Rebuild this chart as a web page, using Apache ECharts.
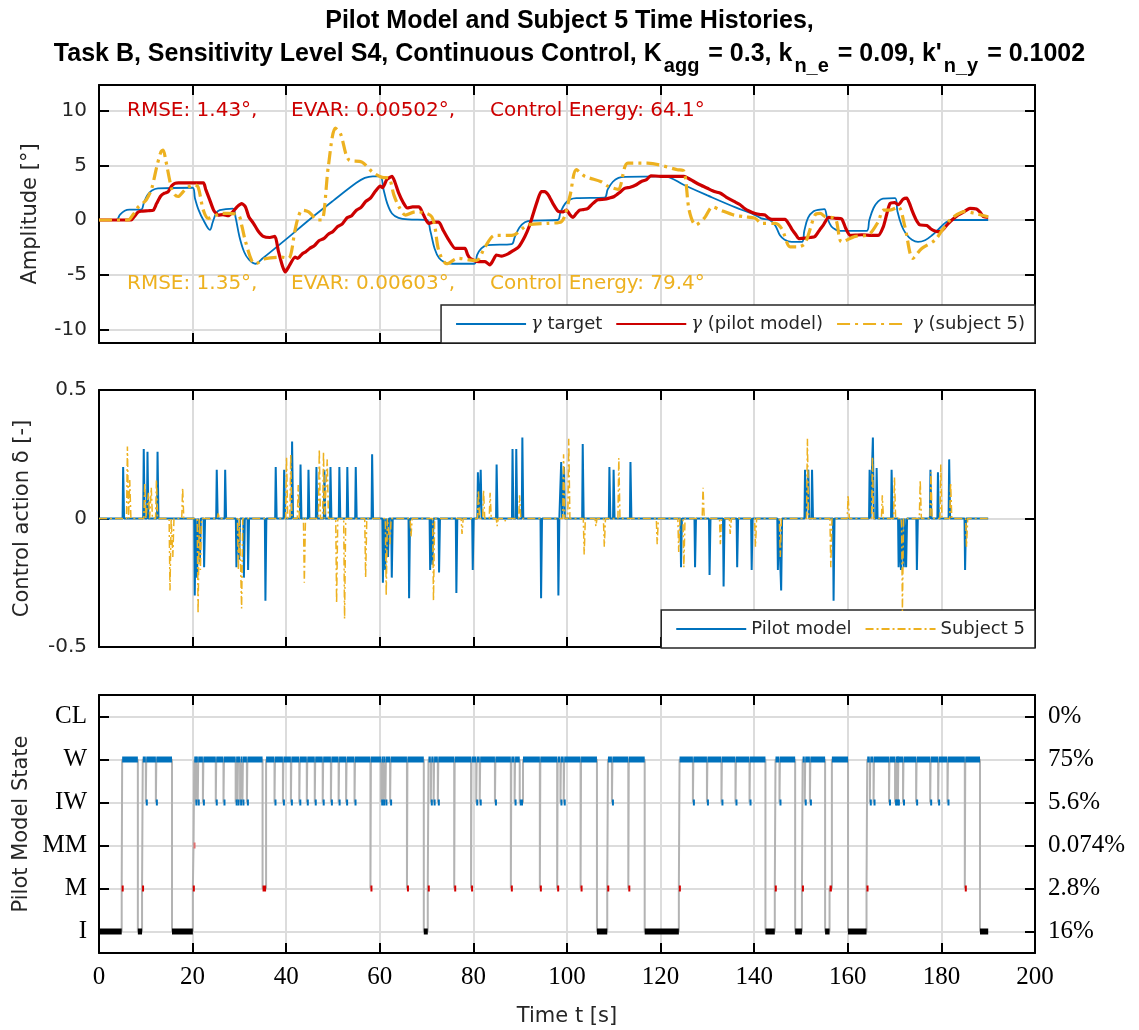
<!DOCTYPE html>
<html>
<head>
<meta charset="utf-8">
<script src="https://cdn.jsdelivr.net/npm/echarts@6/dist/echarts.min.js"></script>
<style>
  html, body { margin: 0; padding: 0; background: #fff; }
  #chart { width: 1139px; height: 1030px; }
</style>
</head>
<body>
<div id="chart"></div>
<script>
// ---- flight-path angle histories [s, deg] ----
const gammaTarget = [
  [0,0],[3.7,0],[4.5,0.5],[5.5,0.85],[6.5,0.95],[9.0,0.95],[9.6,1.6],[10.4,2.3],[11.3,2.7],[12.6,2.9],[20,2.95],
  [20.5,2.0],[21.3,0.9],[22.3,0],[23.7,-0.9],[24.3,-0.2],[25,0.6],[25.8,0.9],[28.6,1.05],[29.2,0.2],[30,-1.5],
  [31,-2.9],[32,-3.6],[33.4,-4.0],[35,-3.5],[40,-1.75],[45,0.05],[50,1.75],[55,3.4],[56.8,3.85],[58.5,4.0],
  [60.1,4.0],[60.8,2.8],[61.6,1.5],[62.6,0.6],[64,0.2],[66,0.05],[70,0],[70.8,-1.0],[71.7,-2.6],[72.7,-3.5],
  [74,-3.9],[75.5,-4.0],[80.2,-4.0],[80.8,-3.2],[81.7,-2.6],[83,-2.3],[88.2,-2.2],[88.8,-1.6],[89.8,-0.7],
  [91,-0.2],[92.5,-0.05],[98,0],[98.6,0.7],[99.6,1.5],[100.8,1.9],[102,2.0],[108,2.05],[108.7,2.8],[109.8,3.5],
  [111,3.85],[112.5,3.95],[120.8,4.0],[125,3.2],[130,2.25],[136,1.15],[140,0.5],[141.5,0.15],[143.3,0],
  [144.5,-0.5],[145.5,-1.4],[146.5,-1.8],[148,-2.0],[150.2,-2.0],[150.7,-1.0],[151.5,0.2],[152.7,0.8],[154,0.95],
  [155,1.0],[155.6,0.2],[156.5,-0.6],[157.5,-0.9],[158.5,-1.0],[164,-1.0],[164.6,0],[165.5,1.1],[166.5,1.7],
  [167.5,1.95],[170.1,2.0],[170.6,0.8],[171.5,-0.5],[172.5,-1.3],[173.7,-1.8],[175,-2.0],[176.5,-1.85],
  [178,-1.4],[179.5,-0.8],[181,-0.2],[182.5,0],[190,0]
];
const gammaPilot = [
  [0,0],[6.9,0],[7.5,0.3],[8.3,0.7],[9,0.8],[10.5,0.85],[11.6,0.9],[12.3,1.5],[13.2,2.2],[14,2.45],[14.8,2.6],
  [15.5,3.1],[16.2,3.35],[17,3.4],[22.3,3.4],[22.8,2.8],[23.7,1.8],[24.5,0.9],[25.5,0.45],[26.5,0.5],[27.6,0.4],
  [28.5,0.7],[29.5,1.2],[30.5,1.5],[31.3,1.2],[32,0.3],[33,-0.3],[34,-1.0],[35.1,-1.5],[36.5,-1.6],[37.6,-1.5],
  [38.3,-2.8],[39.2,-4.2],[39.8,-4.75],[40.5,-4.3],[41.9,-3.4],[42.5,-3.5],[43.4,-3.1],[44.2,-2.9],[45,-2.6],
  [46,-2.35],[47,-1.9],[48,-1.7],[49,-1.3],[50,-1.05],[51,-0.6],[52,-0.35],[53,0.2],[54,0.4],[55,0.9],[56,1.15],
  [57,1.7],[58,2.0],[59,2.6],[60.1,3.1],[60.6,2.95],[61.5,3.7],[62.6,4.0],[63.2,3.5],[64,2.5],[65,1.6],[65.9,1.1],
  [67,1.2],[68.4,1.2],[69.3,0.5],[70.4,-0.3],[71.5,-0.2],[72.6,-0.2],[73.5,-0.9],[74.7,-1.8],[76.1,-2.6],
  [77.2,-2.6],[78.2,-2.6],[78.8,-3.2],[79.3,-3.5],[81.1,-3.8],[82.5,-3.8],[83.5,-4.1],[84.2,-3.7],[84.9,-3.2],
  [86,-3.3],[87.4,-3.1],[88.5,-2.8],[89.6,-2.5],[91,-1.5],[92,-0.5],[92.8,0.6],[93.7,1.8],[94.5,2.6],[95.2,2.6],
  [96,2.3],[97,1.5],[98.1,0.8],[99.2,0.75],[99.9,0.9],[100.6,0.5],[101.3,0.25],[102,0.6],[102.7,0.9],
  [103.5,0.95],[104.5,1.07],[105.5,1.5],[106.6,1.85],[108,1.9],[109,2.0],[110.1,2.15],[111.2,2.5],[112.3,2.9],
  [113.5,3.0],[114.7,3.2],[115.8,3.5],[117,3.7],[117.9,4.05],[120,4.0],[125,4.0],[126,3.8],[127.2,3.5],
  [128.5,3.2],[130,2.9],[131.5,2.6],[132.8,2.45],[134,2.1],[135.7,1.7],[137,1.4],[137.8,1.1],[139,0.8],
  [140.2,0.6],[141.3,0.5],[142.3,0.46],[143,0.2],[143.8,0.06],[146.6,0.06],[147.3,-0.3],[148,-0.8],[149,-1.4],
  [149.5,-1.7],[150.9,-1.65],[152,-1.6],[153,-1.5],[154,-0.9],[154.8,-0.45],[155.9,0.25],[157.5,0.15],
  [158.7,0.1],[159.5,-0.7],[160.5,-1.4],[163,-1.35],[165,-1.4],[166.5,-1.4],[167.6,-0.6],[168.3,0.5],[169,1.5],
  [170,1.6],[170.8,1.4],[171.8,1.9],[172.6,2.0],[173.2,1.5],[173.7,0.9],[174.5,0.1],[175.4,-0.45],[176.9,-0.5],
  [177.7,-0.8],[178.6,-1.0],[179.7,-1.07],[180.5,-0.8],[181.5,-0.3],[182.5,0.1],[183.6,0.46],[185,0.8],
  [186.1,1.07],[187.5,1.0],[188.3,0.7],[189,0.3],[190,0.25]
];
const gammaSubject = [
  [0,0],[6.2,0],[7.3,0.5],[8.4,1.2],[9.3,1.5],[10.1,1.85],[11.2,2.8],[12.3,4.8],[13.2,6.2],[13.7,6.4],[14.2,5.6],
  [15.5,2.9],[16.2,2.3],[16.9,2.15],[18,2.6],[19,3.0],[20.5,3.2],[21.2,3.0],[22.3,0.9],[23.4,0.15],[24.8,0.4],
  [26,0.6],[27.6,0.6],[29.8,0.45],[30.5,-0.5],[31.2,-1.8],[32.6,-3.7],[33.4,-4.0],[35.5,-3.55],[39,-3.4],
  [40.5,-3.5],[41.9,-0.9],[42.6,0.3],[43.4,0.9],[44.8,0.75],[45.8,0.3],[46.6,0],[47.6,0],[49,4.9],[50.5,8.4],
  [51.6,7.9],[53.4,5.5],[56.2,5.3],[58.4,4.4],[60.5,3.9],[61.9,3.85],[63,2.3],[64.1,1.2],[65.5,0.45],[67.6,0.75],
  [71.1,0.3],[72.6,-2.8],[74.3,-4.0],[76.8,-3.5],[79,-3.65],[80.7,-3.7],[82.5,-2.45],[84.6,-1.4],[88.2,-1.4],
  [91.7,-0.45],[96,-0.3],[98.8,-0.15],[100.6,2.15],[102,4.6],[103.8,4.0],[107.3,3.5],[108.7,3.1],[110.9,2.8],
  [113,5.2],[117.2,5.2],[123.6,4.6],[125,4.45],[126.1,0.9],[127.5,-0.45],[129.3,0.15],[131.1,1.2],[132.8,0.9],
  [135.7,0.45],[138,0.3],[140.2,0.15],[141.6,-0.3],[144.5,-0.3],[145.9,-0.8],[147.7,-2.45],[149.5,-2.45],
  [150.9,-2.1],[153,0.46],[154.1,0.6],[155.2,0.3],[157.3,0.15],[158.7,-2.0],[161.6,-1.5],[164.4,-1.35],
  [166.5,-0.15],[167.6,0.9],[169,0.9],[170.8,1.2],[172.2,-0.6],[173.9,-3.5],[175.8,-2.6],[178.6,-1.85],
  [180.4,-0.8],[182.2,0.15],[185,0.77],[187.2,0.6],[190,0.3]
];

// ---- control action pulses [s, peak] ----
const deltaPilot = [
  [5.2,0.20],[9.6,0.27],[10.4,0.26],[12.55,0.26],[20.5,-0.30],[21.0,-0.23],[21.6,-0.17],[22.5,-0.19],[25.2,0.19],
  [27.0,0.19],[29.4,-0.19],[30.0,-0.16],[31.0,-0.23],[31.9,-0.20],[35.6,-0.32],[37.8,0.20],[39.6,0.19],[41.3,0.30],
  [43.1,0.21],[44.8,0.19],[46.5,0.20],[48.2,0.19],[49.5,0.20],[51.4,0.20],[53.1,0.20],[54.9,0.20],[58.4,0.25],
  [60.7,-0.25],[61.2,-0.20],[61.8,-0.15],[62.6,-0.23],[66.3,-0.31],[70.8,-0.20],[71.3,-0.18],[72.7,-0.21],
  [76.4,-0.29],[79.9,-0.20],[81.0,0.18],[81.6,0.19],[85.0,0.21],[88.4,0.27],[89.2,0.27],[90.5,0.315],[94.5,-0.31],
  [98.2,-0.30],[98.8,0.22],[99.4,0.20],[103.4,0.29],[109.1,0.20],[110.0,0.19],[113.6,0.22],[124.4,-0.19],
  [127.4,-0.19],[130.5,-0.22],[133.5,-0.265],[136.4,-0.19],[139.5,-0.20],[145.1,-0.20],[145.8,-0.28],[150.9,0.19],
  [151.6,0.19],[152.4,0.19],[157.0,-0.32],[164.7,0.19],[165.4,0.315],[166.2,0.196],[169.4,0.19],[170.9,-0.19],
  [171.4,-0.20],[172.0,-0.19],[172.5,-0.19],[174.8,-0.20],[177.7,0.19],[179.3,0.18],[181.7,0.23],[185.1,-0.20]
];
const deltaSubject = [
  [6.1,0.28],[6.6,0.15],[9.8,0.14],[10.6,0.10],[11.2,0.12],[12.3,0.15],[15.2,-0.28],[15.8,-0.15],[17.9,0.12],
  [21.2,-0.37],[21.7,-0.20],[25.5,0.02],[29.8,-0.20],[30.5,-0.35],[40.1,0.24],[41.0,0.25],[42.6,0.13],[43.9,-0.25],
  [47.1,0.27],[48.0,0.26],[48.8,0.23],[50.8,-0.33],[52.5,-0.39],[57.0,-0.23],[61.4,-0.30],[62.2,-0.10],
  [66.7,-0.07],[71.5,-0.32],[77.6,-0.06],[81.1,0.11],[82.2,0.11],[83.6,0.10],[85.1,-0.03],[86.8,-0.01],[89.9,0.09],
  [99.3,0.25],[100.4,0.31],[103.7,-0.14],[106.2,-0.03],[108.0,-0.11],[111.1,0.235],[119.3,-0.10],[123.9,-0.13],
  [125.0,-0.19],[129.1,0.12],[132.8,-0.10],[134.9,-0.06],[140.3,-0.11],[145.6,-0.15],[151.4,0.31],[156.4,-0.19],
  [160.1,0.09],[165.3,0.24],[167.4,0.09],[170.0,0.16],[171.7,-0.36],[175.5,0.15],[177.8,0.18],[179.9,0.21],
  [182.0,0.14],[185.4,-0.11]
];

// ---- pilot model state: switch times [s] and the state entered ----
const stateT = [
  0,4.85,4.95,8.3,9.2,9.35,10.0,10.1,12.15,12.25,15.6,20.05,20.2,20.35,20.6,20.7,21.1,21.2,22.2,22.3,
  24.95,25.05,26.6,26.7,29.2,29.3,29.6,29.7,30.15,30.25,30.65,30.75,31.6,31.7,34.95,35.7,37.5,37.6,39.3,39.4,
  41.0,41.1,42.8,42.9,44.4,44.5,46.1,46.2,47.8,47.9,49.55,49.65,51.2,51.3,52.8,52.9,54.6,54.7,58.0,58.1,
  60.3,60.4,60.7,60.8,61.2,61.3,62.2,62.3,65.8,65.9,69.4,70.25,70.4,70.9,71.0,71.5,71.6,72.4,72.5,75.9,76.0,
  79.5,79.6,80.6,80.7,81.35,81.45,84.6,84.7,88.0,88.1,88.8,88.9,89.9,90.6,94.2,94.3,97.9,98.0,98.6,98.7,
  99.3,99.4,102.9,103.0,106.4,108.6,108.75,109.6,109.7,113.1,113.2,116.6,123.9,124.05,126.9,127.0,129.9,130.0,
  133.0,133.1,136.0,136.1,139.0,139.1,142.4,144.4,144.55,145.4,145.5,148.75,150.2,150.35,150.8,150.9,151.9,152.0,
  155.15,156.1,156.6,160.05,164.0,164.15,164.7,164.8,165.5,165.6,168.8,168.9,170.1,170.2,170.4,170.5,170.7,170.8,
  171.8,171.9,174.6,174.7,177.6,177.7,179.3,179.4,181.3,181.4,185.0,185.1,188.25,190.0
];
const stateS = [
  'I','M','W','I','M','W','IW','W','IW','W','I','M','MM','W','IW','W','IW','W','IW','W',
  'IW','W','IW','W','IW','W','IW','W','IW','W','IW','W','IW','W','M','W','IW','W','IW','W',
  'IW','W','IW','W','IW','W','IW','W','IW','W','IW','W','IW','W','IW','W','IW','W','M','W',
  'IW','W','IW','W','IW','W','IW','W','M','W','I','M','W','IW','W','IW','W','IW','W','M','W',
  'M','W','IW','W','IW','W','IW','W','M','W','IW','W','IW','W','M','W','M','W','IW','W',
  'IW','W','M','W','I','M','W','IW','W','M','W','I','M','W','IW','W','IW','W',
  'IW','W','IW','W','IW','W','I','M','W','IW','W','I','M','W','IW','W','IW','W',
  'I','M','W','I','M','W','IW','W','IW','W','IW','W','IW','W','IW','W','IW','W',
  'IW','W','IW','W','IW','W','IW','W','IW','W','M','W','I','I'
];

// ---- axis tick labels ----
const timeTicks = [0, 20, 40, 60, 80, 100, 120, 140, 160, 180, 200];
const ampTicks = [-10, -5, 0, 5, 10];
const stateNames = ['I', 'M', 'MM', 'IW', 'W', 'CL'];
const stateShares = ['16%', '2.8%', '0.074%', '5.6%', '75%', '0%'];

// ---- summary metrics ----
const pilotStats = ['RMSE: 1.43°,', 'EVAR: 0.00502°,', 'Control Energy: 64.1°'];
const subjectStats = ['RMSE: 1.35°,', 'EVAR: 0.00603°,', 'Control Energy: 79.4°'];

const SANS = '"DejaVu Sans", sans-serif';
const SERIF = '"Liberation Serif", serif';
const NARROW = '"Liberation Sans Narrow", "Arial Narrow", "Liberation Sans", sans-serif';
const INK = '#000';
const BLUE = '#0072BD', RED = '#CC0000', GOLD = '#EDB120';
const GRID_GRAY = '#dcdcdc';

// narrow rectangular pulses on a zero baseline
function pulseTrace(list, half, top) {
  const out = [[0, 0]];
  list.slice().sort((a, b) => a[0] - b[0]).forEach(([t, v]) => {
    out.push([t - half, 0], [t - top, v], [t + top, v], [t + half, 0]);
  });
  out.push([190, 0]);
  return out;
}

const levelOf = s => stateNames.indexOf(s) + 1;
const stateLine = stateT.map((t, i) => [t, levelOf(stateS[i])]);
const stateSpans = [];
for (let i = 0; i < stateT.length - 1; i++) {
  stateSpans.push([stateT[i], stateT[i + 1], levelOf(stateS[i])]);
}
const STATE_COLORS = { 1: '#000000', 2: '#D40000', 3: '#E07070', 4: BLUE, 5: BLUE, 6: BLUE };

function xAxisFor(grid, pos, extra) {
  return Object.assign({
    type: 'value', gridIndex: grid, position: pos, min: 0, max: 200, interval: 20,
    axisLine: { onZero: false, lineStyle: { color: INK, width: 2 } },
    axisTick: { inside: true, length: 10, lineStyle: { color: INK, width: 2 } },
    axisLabel: { show: false },
    splitLine: { show: false }
  }, extra || {});
}
function yAxisFor(grid, pos, extra) {
  return Object.assign({
    type: 'value', gridIndex: grid, position: pos,
    axisLine: { show: true, onZero: false, lineStyle: { color: INK, width: 2 } },
    axisTick: { show: true, inside: true, length: 10, lineStyle: { color: INK, width: 2 } },
    axisLabel: { show: false },
    splitLine: { show: false }
  }, extra || {});
}

const legendBase = {
  orient: 'horizontal', right: 104,
  itemWidth: 70, itemHeight: 14, itemGap: 13,
  padding: [10, 10, 10, 14],
  backgroundColor: '#fff', borderColor: '#262626', borderWidth: 1.5, borderRadius: 0,
  itemStyle: { opacity: 0 }
};

const chart = echarts.init(document.getElementById('chart'), null, { renderer: 'canvas' });

const option = {
  animation: false,
  backgroundColor: '#fff',
  title: {
    left: 'center', top: 6,
    text: 'Pilot Model and Subject 5 Time Histories,\nTask B, Sensitivity Level S4, Continuous Control, K{s|agg} = 0.3, k{s|n_e} = 0.09, k\'{s|n_y} = 0.1002',
    textStyle: {
      fontFamily: NARROW, fontWeight: 'bold', fontSize: 25, color: INK, lineHeight: 21,
      rich: {
        s: {
          fontFamily: NARROW, fontWeight: 'bold', fontSize: 20, color: INK, lineHeight: 44,
          verticalAlign: 'bottom', padding: [0, 2, 0, 2]
        }
      }
    }
  },
  grid: [
    { left: 99, top: 85, width: 936, height: 258 },
    { left: 99, top: 390, width: 936, height: 257 },
    { left: 99, top: 695, width: 936, height: 258 }
  ],
  xAxis: [
    xAxisFor(0, 'bottom', { splitLine: { show: true, lineStyle: { color: GRID_GRAY, width: 2 } } }),
    xAxisFor(0, 'top'),
    xAxisFor(1, 'bottom', { splitLine: { show: true, lineStyle: { color: GRID_GRAY, width: 2 } } }),
    xAxisFor(1, 'top'),
    xAxisFor(2, 'bottom', {
      splitLine: { show: true, lineStyle: { color: GRID_GRAY, width: 2 } },
      axisLabel: { show: true, customValues: timeTicks, fontFamily: SERIF, fontSize: 25, color: INK, margin: 12 },
      name: 'Time t [s]', nameLocation: 'middle', nameGap: 53,
      nameTextStyle: { fontFamily: SANS, fontSize: 21, color: '#262626' }
    }),
    xAxisFor(2, 'top')
  ],
  yAxis: [
    yAxisFor(0, 'left', {
      min: -11.25, max: 12.35,
      axisTick: { show: true, inside: true, length: 10, customValues: ampTicks, lineStyle: { color: INK, width: 2 } },
      axisLabel: { show: true, customValues: ampTicks, fontFamily: SANS, fontSize: 20, color: '#262626', margin: 12 },
      splitLine: { show: true, lineStyle: { color: GRID_GRAY, width: 2 } },
      name: 'Amplitude [°]', nameLocation: 'middle', nameGap: 58, nameRotate: 90,
      nameTextStyle: { fontFamily: SANS, fontSize: 21, color: '#262626' }
    }),
    yAxisFor(0, 'right', {
      min: -11.25, max: 12.35,
      axisTick: { show: true, inside: true, length: 10, customValues: ampTicks, lineStyle: { color: INK, width: 2 } }
    }),
    yAxisFor(1, 'left', {
      min: -0.5, max: 0.5, interval: 0.5,
      axisLabel: { show: true, fontFamily: SANS, fontSize: 20, color: '#262626', margin: 12 },
      splitLine: { show: true, lineStyle: { color: GRID_GRAY, width: 2 } },
      name: 'Control action δ [-]', nameLocation: 'middle', nameGap: 66, nameRotate: 90,
      nameTextStyle: { fontFamily: SANS, fontSize: 21, color: '#262626' }
    }),
    yAxisFor(1, 'right', { min: -0.5, max: 0.5, interval: 0.5 }),
    yAxisFor(2, 'left', {
      min: 0.5, max: 6.5,
      axisTick: { show: true, inside: true, length: 10, customValues: [1, 2, 3, 4, 5, 6], lineStyle: { color: INK, width: 2 } },
      axisLabel: {
        show: true, customValues: [1, 2, 3, 4, 5, 6], fontFamily: SERIF, fontSize: 25, color: INK, margin: 12,
        formatter: v => stateNames[Math.round(v) - 1]
      },
      splitLine: { show: true, lineStyle: { color: GRID_GRAY, width: 2 } },
      name: 'Pilot Model State', nameLocation: 'middle', nameGap: 66, nameRotate: 90,
      nameTextStyle: { fontFamily: SANS, fontSize: 21, color: '#262626' }
    }),
    yAxisFor(2, 'right', {
      min: 0.5, max: 6.5,
      axisTick: { show: true, inside: true, length: 10, customValues: [1, 2, 3, 4, 5, 6], lineStyle: { color: INK, width: 2 } },
      axisLabel: {
        show: true, customValues: [1, 2, 3, 4, 5, 6], fontFamily: SERIF, fontSize: 25, color: INK, margin: 13,
        formatter: v => stateShares[Math.round(v) - 1]
      }
    })
  ],
  legend: [
    Object.assign({}, legendBase, {
      data: ['γ target', 'γ (pilot model)', 'γ (subject 5)'],
      top: 305,
      formatter: n => n.replace('γ', '{g|γ}'),
      textStyle: {
        fontFamily: SANS, fontSize: 18, color: '#262626',
        rich: { g: { fontFamily: '"DejaVu Serif", serif', fontStyle: 'italic', fontSize: 18, color: '#262626' } }
      }
    }),
    Object.assign({}, legendBase, {
      data: ['Pilot model', 'Subject 5'],
      top: 610,
      textStyle: { fontFamily: SANS, fontSize: 18, color: '#262626' }
    })
  ],
  graphic: [
    { type: 'text', x: 127, y: 111, z: 5, style: { text: pilotStats[0], fill: RED, fontFamily: SANS, fontSize: 20, verticalAlign: 'middle' } },
    { type: 'text', x: 291, y: 111, z: 5, style: { text: pilotStats[1], fill: RED, fontFamily: SANS, fontSize: 20, verticalAlign: 'middle' } },
    { type: 'text', x: 490, y: 111, z: 5, style: { text: pilotStats[2], fill: RED, fontFamily: SANS, fontSize: 20, verticalAlign: 'middle' } },
    { type: 'text', x: 127, y: 284, z: 5, style: { text: subjectStats[0], fill: GOLD, fontFamily: SANS, fontSize: 20, verticalAlign: 'middle' } },
    { type: 'text', x: 291, y: 284, z: 5, style: { text: subjectStats[1], fill: GOLD, fontFamily: SANS, fontSize: 20, verticalAlign: 'middle' } },
    { type: 'text', x: 490, y: 284, z: 5, style: { text: subjectStats[2], fill: GOLD, fontFamily: SANS, fontSize: 20, verticalAlign: 'middle' } }
  ],
  series: [
    {
      name: 'γ target', type: 'line', xAxisIndex: 0, yAxisIndex: 0, data: gammaTarget,
      symbol: 'none', smooth: 0.35, lineStyle: { color: BLUE, width: 1.8 }, itemStyle: { color: BLUE }, z: 3
    },
    {
      name: 'γ (pilot model)', type: 'line', xAxisIndex: 0, yAxisIndex: 0, data: gammaPilot,
      symbol: 'none', smooth: 0.2, lineStyle: { color: RED, width: 3.2 }, itemStyle: { color: RED }, z: 4
    },
    {
      name: 'γ (subject 5)', type: 'line', xAxisIndex: 0, yAxisIndex: 0, data: gammaSubject,
      symbol: 'none', smooth: 0.3, lineStyle: { color: GOLD, width: 3.2, type: [13, 5, 3, 5] }, itemStyle: { color: GOLD }, z: 5
    },
    {
      name: 'Pilot model', type: 'line', xAxisIndex: 2, yAxisIndex: 2, data: pulseTrace(deltaPilot, 0.16, 0.04),
      symbol: 'none', lineStyle: { color: BLUE, width: 2 }, itemStyle: { color: BLUE }, z: 3
    },
    {
      name: 'Subject 5', type: 'line', xAxisIndex: 2, yAxisIndex: 2, data: pulseTrace(deltaSubject, 0.22, 0.03),
      symbol: 'none', lineStyle: { color: GOLD, width: 1.5, type: [8, 3, 2, 3] }, itemStyle: { color: GOLD }, z: 4
    },
    {
      name: 'state path', type: 'line', xAxisIndex: 4, yAxisIndex: 4, data: stateLine, step: 'end',
      symbol: 'none', lineStyle: { color: '#b3b3b3', width: 2 }, z: 3, silent: true
    },
    {
      name: 'state marks', type: 'custom', xAxisIndex: 4, yAxisIndex: 4, data: stateSpans,
      encode: { x: [0, 1], y: 2 }, z: 4, silent: true,
      renderItem: (params, api) => {
        const lv = api.value(2);
        const a = api.coord([api.value(0), lv]);
        const b = api.coord([api.value(1), lv]);
        const w = Math.max(b[0] - a[0], 2);
        return {
          type: 'rect',
          shape: { x: a[0], y: a[1] - 3, width: w, height: 6 },
          style: { fill: STATE_COLORS[lv] }
        };
      }
    }
  ]
};

chart.setOption(option);
</script>
</body>
</html>
